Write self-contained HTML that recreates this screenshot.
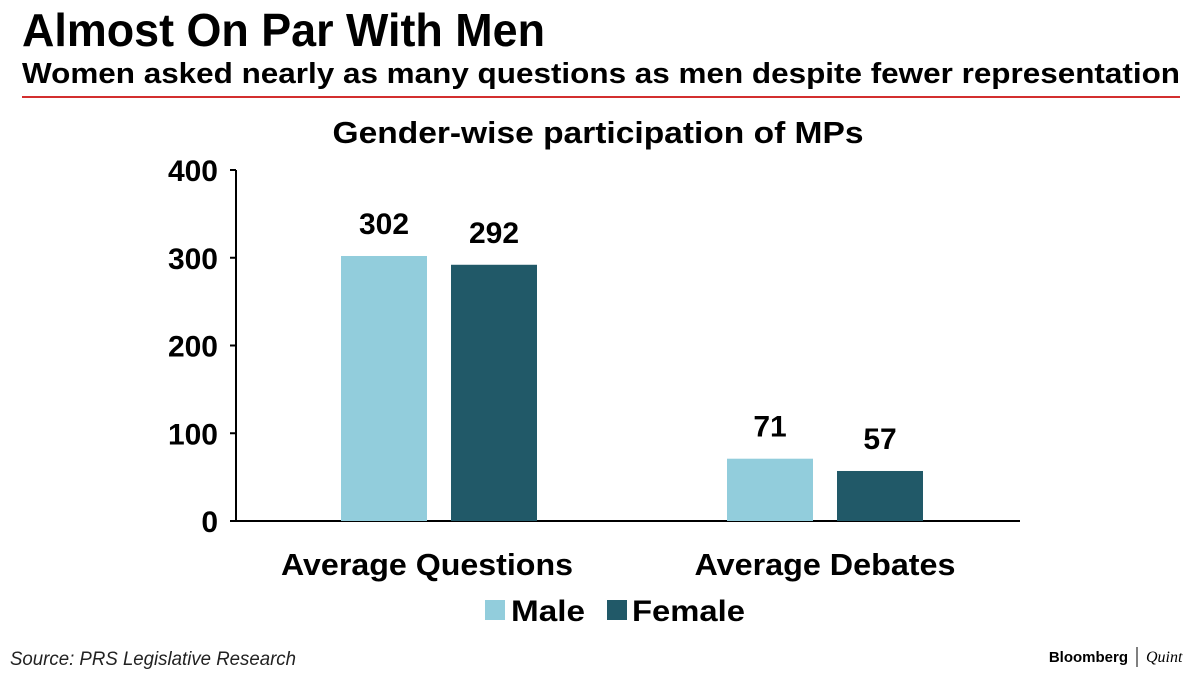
<!DOCTYPE html>
<html><head><meta charset="utf-8"><style>
body{margin:0;background:#fff;}
svg{display:block;font-family:"Liberation Sans",sans-serif;}
</style></head><body>
<svg id="chart" width="1200" height="675" viewBox="0 0 1200 675">
<text x="22" y="46" font-size="46" font-weight="bold" textLength="523" lengthAdjust="spacingAndGlyphs" fill="#000">Almost On Par With Men</text>
<text x="22" y="83" font-size="29" font-weight="bold" textLength="1158" lengthAdjust="spacingAndGlyphs" fill="#000">Women asked nearly as many questions as men despite fewer representation</text>
<line x1="22" y1="97" x2="1180" y2="97" stroke="#d32f2f" stroke-width="2"/>
<text x="598" y="143" font-size="31" font-weight="bold" text-anchor="middle" textLength="531" lengthAdjust="spacingAndGlyphs">Gender-wise participation of MPs</text>
<g id="axes"></g>
<g id="bars"></g>
<g>
<rect x="485" y="600" width="20" height="20" fill="#92cddc"/>
<text x="511" y="621" font-size="30" font-weight="bold" textLength="74" lengthAdjust="spacingAndGlyphs">Male</text>
<rect x="607" y="600" width="20" height="20" fill="#215968"/>
<text x="632" y="621" font-size="30" font-weight="bold" textLength="113" lengthAdjust="spacingAndGlyphs">Female</text>
</g>
<text x="10" y="665" font-size="19" font-style="italic" fill="#222" textLength="286" lengthAdjust="spacingAndGlyphs">Source: PRS Legislative Research</text>
<g>
<text x="1128" y="662" font-size="15" font-weight="bold" text-anchor="end">Bloomberg</text>
<line x1="1137" y1="647" x2="1137" y2="667" stroke="#000" stroke-width="1"/>
<text x="1146" y="662" font-size="16" font-style="italic" font-family="Liberation Serif,serif">Quint</text>
</g>
</svg>
<script>
const categories=["Average Questions","Average Debates"];
const maleValues=[302,71];
const femaleValues=[292,57];
const tickValues=[0,100,200,300,400];
const NS="http://www.w3.org/2000/svg";
const y0=521,yTop=170,vMax=400;
function y(v){return y0-(v/vMax)*(y0-yTop);}
const groupLeft=[341,727],barW=86,gap=24;
const catWidths=[292,261];
function mk(tag,attrs,parent){const e=document.createElementNS(NS,tag);for(const k in attrs)e.setAttribute(k,attrs[k]);parent.appendChild(e);return e;}
const axes=document.getElementById('axes'),bars=document.getElementById('bars');
const yl=mk('line',{x1:236,y1:yTop,x2:236,y2:y0,stroke:'#000','stroke-width':2},axes);


const xl=mk('line',{x1:236,y1:y0,x2:1020,y2:y0,stroke:'#000','stroke-width':2},axes);


tickValues.forEach(v=>{
 const t=mk('line',{x1:230,x2:236,y1:y(v),y2:y(v),stroke:'#000','stroke-width':2},axes);
 
 
 const l=mk('text',{x:218,y:y(v)+11,'font-size':30,'font-weight':'bold','text-anchor':'end'},axes);
 l.textContent=v;
 
 
});
categories.forEach((c,i)=>{
 const series=[[maleValues[i],'#92cddc','male'],[femaleValues[i],'#215968','female']];
 series.forEach((s,j)=>{
  const x=groupLeft[i]+j*(barW+gap);
  const r=mk('rect',{x:x,y:y(s[0]),width:barW,height:y0-y(s[0]),fill:s[1]},bars);
  
  
  const t=mk('text',{x:x+barW/2,y:y(s[0])-22,'font-size':30,'font-weight':'bold','text-anchor':'middle'},bars);
  t.textContent=s[0];
  
  
 });
 const cx=groupLeft[i]+barW+gap/2;
 const cl=mk('text',{x:cx+(i===0?-12:0),y:575,'font-size':31,'font-weight':'bold','text-anchor':'middle',textLength:catWidths[i],lengthAdjust:'spacingAndGlyphs'},axes);
 cl.textContent=c;
 
 
});
</script>
</body></html>
